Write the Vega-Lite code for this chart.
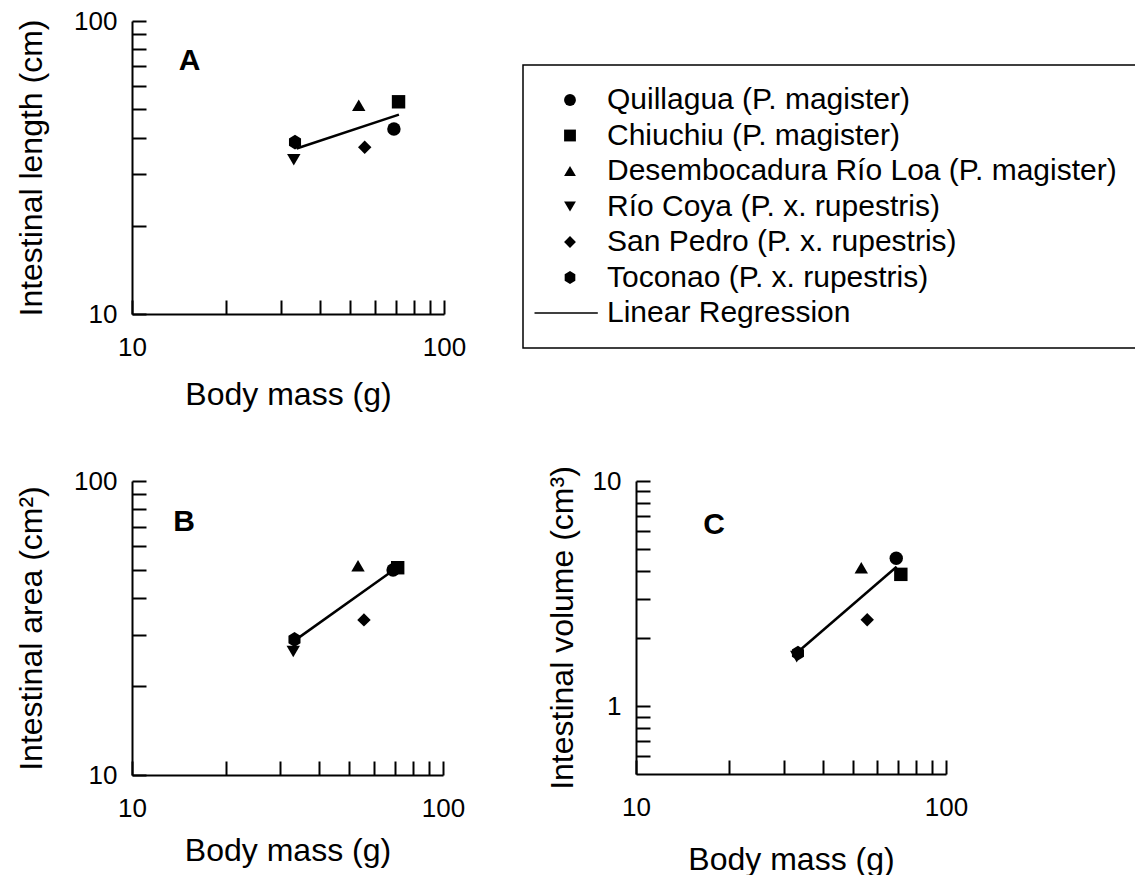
{
  "$schema": "https://vega.github.io/schema/vega-lite/v6.json",
  "background": "white",
  "padding": {"left": 15, "top": 8, "right": 0, "bottom": 0},
  "datasets": {
    "pts": [
      {"site": "Quillagua (P. magister)", "mass": 69.1, "length": 42.8, "area": 49.8, "volume": 4.54},
      {"site": "Chiuchiu (P. magister)", "mass": 71.5, "length": 53.0, "area": 50.7, "volume": 3.85},
      {"site": "Desembocadura Río Loa (P. magister)", "mass": 53.3, "length": 51.6, "area": 51.5, "volume": 4.12},
      {"site": "Río Coya (P. x. rupestris)", "mass": 33.0, "length": 33.6, "area": 26.3, "volume": 1.66},
      {"site": "San Pedro (P. x. rupestris)", "mass": 55.7, "length": 37.1, "area": 33.7, "volume": 2.42},
      {"site": "Toconao (P. x. rupestris)", "mass": 33.3, "length": 38.6, "area": 28.9, "volume": 1.72}
    ],
    "fit": [
      {"panel": "A", "mass": 33.7, "value": 36.7},
      {"panel": "A", "mass": 71.7, "value": 47.9},
      {"panel": "B", "mass": 33.4, "value": 28.7},
      {"panel": "B", "mass": 69.4, "value": 49.8},
      {"panel": "C", "mass": 33.4, "value": 1.75},
      {"panel": "C", "mass": 69.3, "value": 4.16}
    ]
  },
  "vconcat": [
    {
      "width": 312,
      "height": 293,
      "layer": [
        {
          "data": {"name": "pts"},
          "mark": {"type": "point", "filled": true, "color": "black", "opacity": 1, "size": 180},
          "encoding": {
            "x": {"field": "mass", "type": "quantitative", "scale": {"type": "log", "domain": [10, 100], "nice": false},
                  "axis": {"title": "Body mass (g)", "values": [10, 20, 30, 40, 50, 60, 70, 80, 90, 100], "labelExpr": "datum.value == 10 || datum.value == 100 ? datum.label : ''", "format": "d", "labelOverlap": false}},
            "y": {"field": "length", "type": "quantitative", "scale": {"type": "log", "domain": [10, 100], "nice": false},
                  "axis": {"title": "Intestinal length (cm)", "values": [10, 20, 30, 40, 50, 60, 70, 80, 90, 100], "labelExpr": "datum.value == 10 || datum.value == 100 ? datum.label : ''", "format": "d", "labelOverlap": false}},
            "shape": {"field": "site", "type": "nominal",
                      "scale": {"domain": ["Quillagua (P. magister)", "Chiuchiu (P. magister)", "Desembocadura Río Loa (P. magister)", "Río Coya (P. x. rupestris)", "San Pedro (P. x. rupestris)", "Toconao (P. x. rupestris)", "Linear Regression"],
                                "range": ["circle", "square", "triangle-up", "triangle-down", "diamond", "M0,-1.1L0.9,-0.55L0.9,0.55L0,1.1L-0.9,0.55L-0.9,-0.55Z", "M-6,-0.14H4.7V0.14H-6Z"]},
                      "legend": {"orient": "none", "legendX": 391, "legendY": 44, "title": null}}
          }
        },
        {
          "data": {"name": "fit"},
          "transform": [{"filter": "datum.panel == 'A'"}],
          "mark": {"type": "line", "color": "black", "strokeWidth": 2.5},
          "encoding": {"x": {"field": "mass", "type": "quantitative"}, "y": {"field": "value", "type": "quantitative"}}
        },
        {
          "data": {"values": [{}]},
          "mark": {"type": "text", "text": "A", "fontWeight": "bold", "fontSize": 30, "color": "black"},
          "encoding": {"x": {"datum": 15.3, "type": "quantitative"}, "y": {"datum": 73, "type": "quantitative"}}
        }
      ]
    },
    {
      "spacing": 81,
      "hconcat": [
        {
          "width": 311,
          "height": 294,
          "layer": [
            {
              "data": {"name": "pts"},
              "mark": {"type": "point", "filled": true, "color": "black", "opacity": 1, "size": 180},
              "encoding": {
                "x": {"field": "mass", "type": "quantitative", "scale": {"type": "log", "domain": [10, 100], "nice": false},
                      "axis": {"title": "Body mass (g)", "values": [10, 20, 30, 40, 50, 60, 70, 80, 90, 100], "labelExpr": "datum.value == 10 || datum.value == 100 ? datum.label : ''", "format": "d", "labelOverlap": false, "titlePadding": 14}},
                "y": {"field": "area", "type": "quantitative", "scale": {"type": "log", "domain": [10, 100], "nice": false},
                      "axis": {"title": "Intestinal area (cm²)", "values": [10, 20, 30, 40, 50, 60, 70, 80, 90, 100], "labelExpr": "datum.value == 10 || datum.value == 100 ? datum.label : ''", "format": "d", "labelOverlap": false}},
                "shape": {"field": "site", "type": "nominal",
                          "scale": {"domain": ["Quillagua (P. magister)", "Chiuchiu (P. magister)", "Desembocadura Río Loa (P. magister)", "Río Coya (P. x. rupestris)", "San Pedro (P. x. rupestris)", "Toconao (P. x. rupestris)", "Linear Regression"],
                                    "range": ["circle", "square", "triangle-up", "triangle-down", "diamond", "M0,-1.1L0.9,-0.55L0.9,0.55L0,1.1L-0.9,0.55L-0.9,-0.55Z", "M-6,-0.14H4.7V0.14H-6Z"]},
                          "legend": {"orient": "none", "legendX": 391, "legendY": 44, "title": null}}
              }
            },
            {
              "data": {"name": "fit"},
              "transform": [{"filter": "datum.panel == 'B'"}],
              "mark": {"type": "line", "color": "black", "strokeWidth": 2.5},
              "encoding": {"x": {"field": "mass", "type": "quantitative"}, "y": {"field": "value", "type": "quantitative"}}
            },
            {
              "data": {"values": [{}]},
              "mark": {"type": "text", "text": "B", "fontWeight": "bold", "fontSize": 30, "color": "black"},
              "encoding": {"x": {"datum": 14.7, "type": "quantitative"}, "y": {"datum": 72.6, "type": "quantitative"}}
            }
          ]
        },
        {
          "width": 310,
          "height": 293,
          "layer": [
            {
              "data": {"name": "pts"},
              "mark": {"type": "point", "filled": true, "color": "black", "opacity": 1, "size": 180},
              "encoding": {
                "x": {"field": "mass", "type": "quantitative", "scale": {"type": "log", "domain": [10, 100], "nice": false},
                      "axis": {"title": "Body mass (g)", "values": [10, 20, 30, 40, 50, 60, 70, 80, 90, 100], "labelExpr": "datum.value == 10 || datum.value == 100 ? datum.label : ''", "format": "d", "labelOverlap": false, "titlePadding": 24}},
                "y": {"field": "volume", "type": "quantitative", "scale": {"type": "log", "domain": [0.5, 10], "nice": false},
                      "axis": {"title": "Intestinal volume (cm³)", "values": [10, 9, 8, 7, 6, 5, 4, 3, 2, 1, 0.9, 0.8, 0.7, 0.6], "labelExpr": "datum.value == 1 ? '1' : (datum.value == 10 ? '10' : '')", "labelOverlap": false, "titlePadding": 13}},
                "shape": {"field": "site", "type": "nominal",
                          "scale": {"domain": ["Quillagua (P. magister)", "Chiuchiu (P. magister)", "Desembocadura Río Loa (P. magister)", "Río Coya (P. x. rupestris)", "San Pedro (P. x. rupestris)", "Toconao (P. x. rupestris)", "Linear Regression"],
                                    "range": ["circle", "square", "triangle-up", "triangle-down", "diamond", "M0,-1.1L0.9,-0.55L0.9,0.55L0,1.1L-0.9,0.55L-0.9,-0.55Z", "M-6,-0.14H4.7V0.14H-6Z"]},
                          "legend": {"orient": "none", "legendX": 391, "legendY": 44, "title": null}}
              }
            },
            {
              "data": {"name": "fit"},
              "transform": [{"filter": "datum.panel == 'C'"}],
              "mark": {"type": "line", "color": "black", "strokeWidth": 2.5},
              "encoding": {"x": {"field": "mass", "type": "quantitative"}, "y": {"field": "value", "type": "quantitative"}}
            },
            {
              "data": {"values": [{}]},
              "mark": {"type": "text", "text": "C", "fontWeight": "bold", "fontSize": 30, "color": "black"},
              "encoding": {"x": {"datum": 17.85, "type": "quantitative"}, "y": {"datum": 6.4, "type": "quantitative"}}
            }
          ]
        }
      ]
    }
  ],
  "spacing": 55,
  "config": {
    "font": "Liberation Sans",
    "view": {"stroke": null},
    "text": {"font": "Liberation Sans"},
    "axis": {
      "grid": false,
      "domainColor": "black",
      "domainWidth": 2,
      "tickColor": "black",
      "tickWidth": 2,
      "tickSize": -14,
      "labelFont": "Liberation Sans",
      "labelFontSize": 26,
      "labelColor": "black",
      "labelOverlap": false,
      "labelFlush": false,
      "titleFont": "Liberation Sans",
      "titleFontSize": 32,
      "titleFontWeight": "normal",
      "titleColor": "black"
    },
    "axisX": {"labelPadding": 34, "titlePadding": 19},
    "axisY": {"labelPadding": 29, "titlePadding": 25},
    "legend": {
      "strokeColor": "black",
      "strokeWidth": 1.5,
      "padding": 20,
      "labelFont": "Liberation Sans",
      "labelFontSize": 30,
      "labelColor": "black",
      "symbolSize": 140,
      "symbolFillColor": "black",
      "symbolStrokeWidth": 0,
      "symbolOffset": 12,
      "rowPadding": 5.5,
      "labelOffset": 22,
      "labelLimit": 0
    }
  }
}
